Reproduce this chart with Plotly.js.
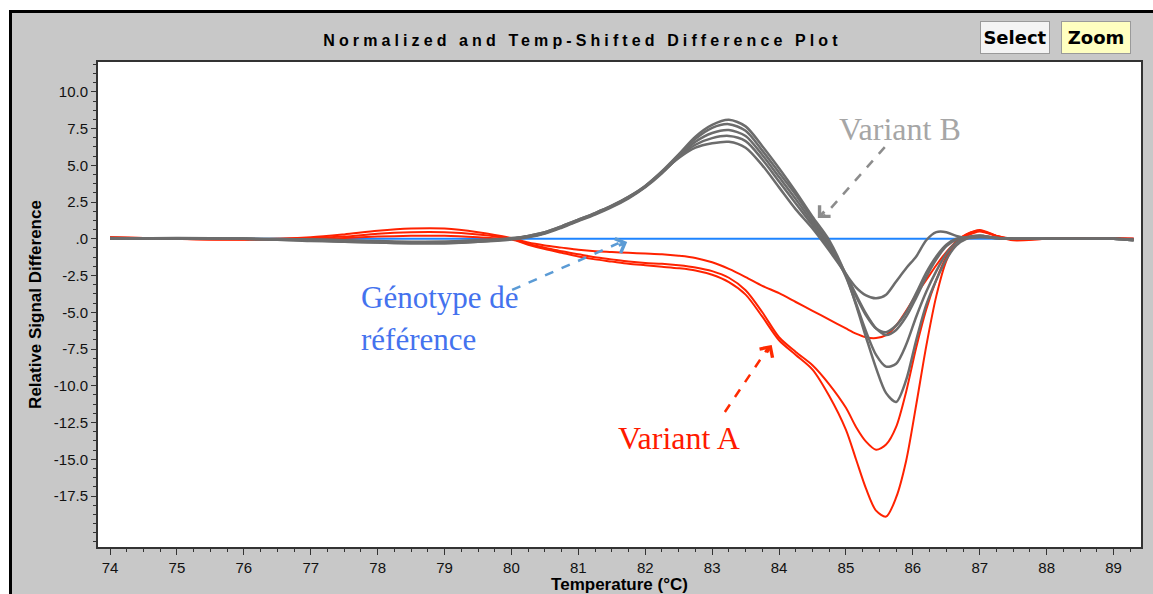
<!DOCTYPE html>
<html>
<head>
<meta charset="utf-8">
<script src="https://cdn.plot.ly/plotly-3.0.1.min.js"></script>
<style>
  html, body { margin: 0; padding: 0; background: #ffffff; width: 1153px; height: 594px; overflow: hidden; }
  #wrap { position: absolute; left: 9px; top: 10px; border-left: 3px solid #000; border-top: 3px solid #000; width: 1141px; height: 581px; background: #c8c8c8; }
  #chart { width: 1141px; height: 581px; }
  .gtitle { letter-spacing: 4.1px; }
</style>
</head>
<body>
<div id="wrap"><div id="chart"></div></div>
<script>
// ---- data ----
const temps = [74, 75, 76, 77, 77.5, 78, 78.5, 79, 79.5, 80, 80.25, 80.5, 80.75, 81, 81.25, 81.5, 81.75, 82, 82.25, 82.5, 82.75, 83, 83.25, 83.5, 83.75, 84, 84.25, 84.5, 84.75, 85, 85.15, 85.3, 85.45, 85.6, 85.75, 85.9, 86.05, 86.2, 86.35, 86.5, 86.65, 86.8, 87, 87.25, 87.5, 88, 88.5, 89, 89.3];

const reference = [0, 0, 0, 0, 0, 0, 0, 0, 0, 0, 0, 0, 0, 0, 0, 0, 0, 0, 0, 0, 0, 0, 0, 0, 0, 0, 0, 0, 0, 0, 0, 0, 0, 0, 0, 0, 0, 0, 0, 0, 0, 0, 0, 0, 0, 0, 0, 0, 0];

const variantA1 = [0.1, 0.0, -0.05, 0.1, 0.3, 0.55, 0.7, 0.7, 0.45, 0.05, -0.25, -0.45, -0.6, -0.75, -0.85, -0.9, -0.95, -1.0, -1.05, -1.15, -1.3, -1.6, -2.05, -2.6, -3.2, -3.7, -4.3, -4.9, -5.5, -6.1, -6.45, -6.7, -6.75, -6.55, -5.9, -4.9, -3.8, -2.8, -1.8, -0.9, -0.2, 0.2, 0.5, 0.2, -0.05, 0, 0.05, 0, 0];
const variantA2 = [0.1, 0.0, -0.05, 0.05, 0.15, 0.35, 0.45, 0.45, 0.3, 0.0, -0.35, -0.6, -0.85, -1.05, -1.25, -1.4, -1.55, -1.65, -1.7, -1.8, -1.95, -2.2, -2.65, -3.5, -5.0, -6.7, -7.7, -8.6, -9.9, -11.5, -12.8, -13.8, -14.35, -14.0, -12.8, -10.4, -7.4, -4.8, -2.8, -1.2, -0.15, 0.3, 0.55, 0.2, 0.0, 0, 0, 0, 0];
const variantA3 = [0.05, 0.0, -0.05, -0.05, 0.05, 0.15, 0.2, 0.2, 0.1, -0.05, -0.4, -0.7, -0.95, -1.2, -1.4, -1.55, -1.7, -1.8, -1.9, -2.0, -2.15, -2.45, -2.95, -3.8, -5.3, -6.9, -7.9, -8.9, -10.7, -13.0, -15.0, -17.0, -18.5, -18.9, -17.6, -15.1, -11.3, -7.3, -3.9, -1.5, -0.2, 0.3, 0.6, 0.2, -0.1, 0, 0, 0.05, 0];

const variantB1 = [0, 0, 0, -0.05, -0.1, -0.15, -0.2, -0.2, -0.1, 0.0, 0.2, 0.45, 0.85, 1.3, 1.75, 2.25, 2.85, 3.6, 4.55, 5.5, 6.2, 6.5, 6.6, 6.2, 5.0, 3.5, 2.0, 0.7, -0.8, -2.4, -3.3, -3.85, -4.05, -3.8, -2.9, -2.0, -1.2, -0.1, 0.45, 0.45, 0.2, 0.05, 0.1, 0.05, 0, 0, 0, 0, -0.05];
const variantB2 = [0, 0, 0, -0.1, -0.15, -0.2, -0.25, -0.25, -0.15, 0.0, 0.15, 0.4, 0.8, 1.25, 1.7, 2.2, 2.8, 3.55, 4.5, 5.55, 6.4, 6.85, 7.0, 6.65, 5.4, 3.9, 2.4, 0.9, -0.6, -2.5, -3.9, -5.2, -6.1, -6.35, -5.9, -5.0, -3.7, -2.3, -1.2, -0.4, 0.0, 0.1, 0.2, 0.05, 0, 0, 0, 0, -0.05];
const variantB3 = [0.05, 0, 0, -0.15, -0.2, -0.25, -0.3, -0.3, -0.2, -0.05, 0.1, 0.35, 0.75, 1.2, 1.65, 2.15, 2.75, 3.5, 4.45, 5.6, 6.6, 7.2, 7.4, 7.0, 5.7, 4.2, 2.7, 1.1, -0.4, -2.4, -3.8, -5.1, -6.1, -6.55, -6.2, -5.3, -4.0, -2.6, -1.4, -0.5, -0.05, 0.1, 0.2, 0.05, 0, 0, 0, 0, -0.1];
const variantB4 = [0, 0, 0, -0.1, -0.2, -0.25, -0.3, -0.3, -0.2, 0.0, 0.15, 0.4, 0.8, 1.25, 1.7, 2.2, 2.8, 3.55, 4.55, 5.7, 6.8, 7.55, 7.8, 7.35, 6.0, 4.5, 3.0, 1.3, -0.3, -2.6, -4.4, -6.3, -7.9, -8.7, -8.5, -7.2, -5.3, -3.6, -2.2, -1.0, -0.25, 0.05, 0.2, 0.05, 0, 0, 0, 0, -0.1];
const variantB5 = [0, 0.05, 0, -0.05, -0.1, -0.2, -0.25, -0.2, -0.1, 0.05, 0.2, 0.45, 0.85, 1.3, 1.75, 2.25, 2.85, 3.6, 4.6, 5.75, 6.95, 7.75, 8.1, 7.65, 6.3, 4.8, 3.2, 1.5, -0.1, -2.5, -4.5, -6.7, -8.8, -10.5, -11.1, -9.6, -6.9, -4.5, -2.8, -1.4, -0.45, 0.0, 0.15, 0.05, 0, 0, 0, 0, -0.1];

const xTickVals = [74, 75, 76, 77, 78, 79, 80, 81, 82, 83, 84, 85, 86, 87, 88, 89];
const yTickVals = [10, 7.5, 5, 2.5, 0, -2.5, -5, -7.5, -10, -12.5, -15, -17.5];
const yTickText = ['10.0', '7.5', '5.0', '2.5', '.0', '-2.5', '-5.0', '-7.5', '-10.0', '-12.5', '-15.0', '-17.5'];

// ---- styles ----
const RED = '#ff2200', GRAY = '#6c6c6c', BLUE = '#1e84ff';
function trace(y, color, width) {
  return { x: temps, y: y, type: 'scatter', mode: 'lines',
           line: { color: color, width: width, shape: 'spline', smoothing: 0.8 },
           hoverinfo: 'skip', showlegend: false };
}
const data = [
  trace(reference, BLUE, 2),
  trace(variantA1, RED, 2),
  trace(variantA2, RED, 2),
  trace(variantA3, RED, 2),
  trace(variantB1, GRAY, 2.5),
  trace(variantB2, GRAY, 2.5),
  trace(variantB3, GRAY, 2.5),
  trace(variantB4, GRAY, 2.5),
  trace(variantB5, GRAY, 2.5)
];

const tickFont = { family: '"Liberation Sans", Arial, sans-serif', size: 15, color: '#111' };
const serif = '"Liberation Serif", "Times New Roman", serif';

const layout = {
  width: 1141, height: 581,
  margin: { l: 86, r: 12, t: 49, b: 47 },
  paper_bgcolor: '#c8c8c8',
  plot_bgcolor: '#ffffff',
  showlegend: false,
  title: { text: 'Normalized and Temp-Shifted Difference Plot',
           font: { family: '"Liberation Sans", Arial, sans-serif', size: 16, color: '#000', weight: 'bold' },
           x: 0.4645, xref: 'paper', xanchor: 'center', y: 0.9535, yref: 'container', yanchor: 'middle' },
  xaxis: {
    range: [73.82, 89.41], tickmode: 'array', tickvals: xTickVals,
    ticks: 'outside', ticklen: 6, tickcolor: '#333', tickwidth: 1,
    tickfont: tickFont, showgrid: false, zeroline: false,
    showline: true, mirror: true, linecolor: '#333', linewidth: 2,
    minor: { tickmode: 'linear', tick0: 74, dtick: 0.25, ticks: 'outside', ticklen: 3, tickcolor: '#333', showgrid: false },
    title: { text: 'Temperature (°C)', standoff: 4,
             font: { family: '"Liberation Sans", Arial, sans-serif', size: 17, color: '#000', weight: 'bold' } }
  },
  yaxis: {
    range: [-20.97, 12.03], tickmode: 'array', tickvals: yTickVals, ticktext: yTickText,
    ticks: 'outside', ticklen: 5, tickcolor: '#333', tickwidth: 1,
    tickfont: tickFont, showgrid: false, zeroline: false,
    showline: true, mirror: true, linecolor: '#333', linewidth: 2,
    minor: { tickmode: 'linear', tick0: 0, dtick: 0.625, ticks: 'outside', ticklen: 3, tickcolor: '#333', showgrid: false },
    title: { text: 'Relative Signal Difference', standoff: 8,
             font: { family: '"Liberation Sans", Arial, sans-serif', size: 17, color: '#000', weight: 'bold' } }
  },
  shapes: [
    { type: 'line', xref: 'x', yref: 'y', x0: 85.58, y0: 6.24, x1: 84.66, y1: 1.5, layer: 'above',
      line: { color: '#8c8c8c', width: 2.5, dash: 'dash' } },
    { type: 'line', xref: 'x', yref: 'y', x0: 80.01, y0: -3.48, x1: 81.6, y1: -0.3, layer: 'above',
      line: { color: '#5b9bd5', width: 2.5, dash: 'dash' } },
    { type: 'line', xref: 'x', yref: 'y', x0: 83.19, y0: -11.78, x1: 83.84, y1: -7.4, layer: 'above',
      line: { color: '#ff2a00', width: 2.5, dash: 'dash' } }
  ],
  annotations: [
    { text: 'Variant B', x: 85.81, y: 7.47, xref: 'x', yref: 'y', showarrow: false,
      font: { family: serif, size: 32, color: '#a6a6a6' } },
    { text: '', x: 84.58, y: 1.41, xref: 'x', yref: 'y', showarrow: true, ax: 8, ay: -8,
      arrowhead: 4, arrowsize: 1, arrowwidth: 3, arrowcolor: '#8c8c8c' },
    { text: 'Génotype de', x: 77.72, y: -3.96, xref: 'x', yref: 'y', xanchor: 'left', showarrow: false,
      font: { family: serif, size: 31, color: '#4472ee' } },
    { text: 'référence', x: 77.72, y: -6.88, xref: 'x', yref: 'y', xanchor: 'left', showarrow: false,
      font: { family: serif, size: 31, color: '#4472ee' } },
    { text: '', x: 81.73, y: -0.22, xref: 'x', yref: 'y', showarrow: true, ax: -10, ay: 4,
      arrowhead: 4, arrowsize: 1, arrowwidth: 3, arrowcolor: '#5b9bd5' },
    { text: 'Variant A', x: 82.51, y: -13.55, xref: 'x', yref: 'y', showarrow: false,
      font: { family: serif, size: 32, color: '#ff1a00' } },
    { text: '', x: 83.89, y: -7.22, xref: 'x', yref: 'y', showarrow: true, ax: -6, ay: 9,
      arrowhead: 4, arrowsize: 1, arrowwidth: 3, arrowcolor: '#ff2a00' },
    { text: '<b>Select</b>', xref: 'paper', yref: 'paper', x: 0.879, y: 1.0515, xanchor: 'center', yanchor: 'middle',
      showarrow: false, width: 66, height: 29, borderpad: 1, bgcolor: '#f4f4f4', bordercolor: '#9a9a9a', borderwidth: 1,
      font: { family: '"DejaVu Sans", sans-serif', size: 18, color: '#000' } },
    { text: '<b>Zoom</b>', xref: 'paper', yref: 'paper', x: 0.957, y: 1.0515, xanchor: 'center', yanchor: 'middle',
      showarrow: false, width: 66, height: 29, borderpad: 1, bgcolor: '#ffffc0', bordercolor: '#9a9a9a', borderwidth: 1,
      font: { family: '"DejaVu Sans", sans-serif', size: 18, color: '#000' } }
  ]
};

Plotly.newPlot('chart', data, layout, { displayModeBar: false, staticPlot: true });
</script>
</body>
</html>
